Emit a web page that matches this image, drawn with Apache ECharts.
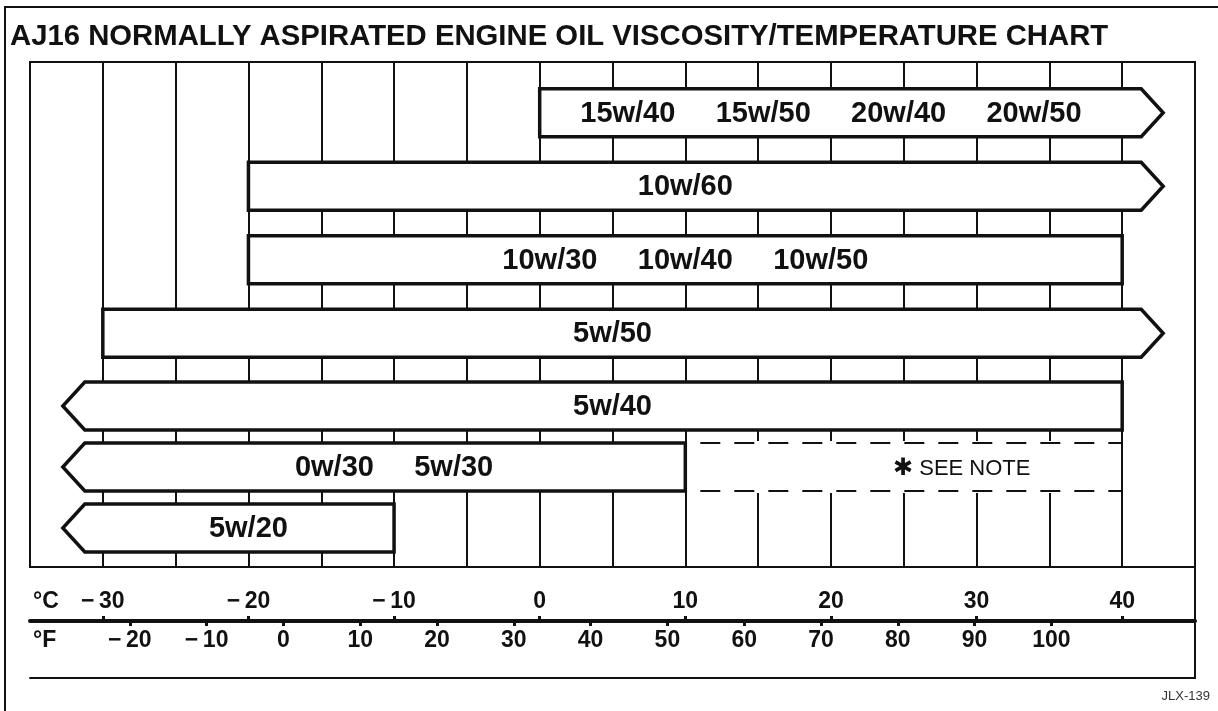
<!DOCTYPE html>
<html>
<head>
<meta charset="utf-8">
<title>AJ16 oil viscosity / temperature chart</title>
<script src="https://cdn.jsdelivr.net/npm/echarts@6/dist/echarts.min.js"></script>
<style>
  html, body { margin: 0; padding: 0; background: #fff; }
  #chart { width: 1218px; height: 711px; }
</style>
</head>
<body>
<div id="chart"></div>
<script>
// oil grades, one row each, top to bottom
const rowGrades = [
  ['15w/40', '15w/50', '20w/40', '20w/50'],
  ['10w/60'],
  ['10w/30', '10w/40', '10w/50'],
  ['5w/50'],
  ['5w/40'],
  ['0w/30', '5w/30'],
  ['5w/20']
]
// temperature band of each row in °C
const lowC = [0, -20, -20, -30, -30, -30, -30]
const highC = [40, 40, 40, 40, 40, 10, -10]
// 1 = the band goes on past the printed scale (drawn as an arrow)
const openLow = [0, 0, 0, 0, 1, 1, 1]
const openHigh = [1, 1, 0, 1, 0, 0, 0]

// dashed "see note" area next to the 0w/30 row
const noteRow = 5
const noteC = [10, 40]
const noteText = 'SEE NOTE'

const celsiusTicks = [-30, -20, -10, 0, 10, 20, 30, 40]
const fahrenheitTicks = [-20, -10, 0, 10, 20, 30, 40, 50, 60, 70, 80, 90, 100]

const C_MIN = -35
const C_MAX = 45
// the printed °F scale is drawn a little shorter than the °C one
const F_MIN = -33
const F_MAX = 118.7

const INK = '#111'
const topRows = 4 // the last three rows are packed closer together

const chart = echarts.init(document.getElementById('chart'))

function fmtTemp(v) {
  return v < 0 ? '\u2212\u2009' + Math.abs(v) : String(v)
}

function makeBandRenderer(offset) {
  return function (params, api) {
    const row = api.value(0)
    const p0 = api.coord([api.value(1), row])
    const p1 = api.coord([api.value(2), row])
    const xl = p0[0]
    const xr = p1[0]
    const cy = p0[1]
    const t = cy - 24
    const b = cy + 24
    const pts = []
    if (api.value(3)) {
      pts.push([xl - 18, t])
    } else {
      pts.push([xl, t])
    }
    if (api.value(4)) {
      pts.push([xr + 19, t], [xr + 41, cy], [xr + 19, b])
    } else {
      pts.push([xr, t], [xr, b])
    }
    if (api.value(3)) {
      pts.push([xl - 18, b], [xl - 40, cy])
    } else {
      pts.push([xl, b])
    }
    const label = rowGrades[offset + params.dataIndex].join('     ')
    return {
      type: 'group',
      children: [
        {
          type: 'polygon',
          shape: { points: pts },
          style: { fill: '#fff', stroke: INK, lineWidth: 3.5, lineJoin: 'miter' }
        },
        {
          type: 'text',
          style: {
            text: label,
            x: (xl + xr) / 2,
            y: cy + 1,
            align: 'center',
            verticalAlign: 'middle',
            font: 'bold 29px "Liberation Sans", sans-serif',
            fill: INK
          }
        }
      ]
    }
  }
}

function renderNote(params, api) {
  const row = api.value(0)
  const p0 = api.coord([api.value(1), row])
  const p1 = api.coord([api.value(2), row])
  const xl = p0[0]
  const xr = p1[0]
  const cy = p0[1]
  const t = cy - 24
  const b = cy + 24
  const dash = { stroke: INK, lineWidth: 2, lineDash: [20, 14] }
  return {
    type: 'group',
    children: [
      { type: 'rect', shape: { x: xl + 2, y: t - 2, width: xr - xl - 4, height: b - t + 4 }, style: { fill: '#fff' } },
      { type: 'line', shape: { x1: xl + 15, y1: t, x2: xr, y2: t }, style: dash },
      { type: 'line', shape: { x1: xl + 15, y1: b, x2: xr, y2: b }, style: dash },
      {
        type: 'text',
        style: {
          text: '{a|\u2731}{b| ' + noteText + '}',
          x: (xl + xr) / 2 + 58,
          y: cy + 2,
          align: 'center',
          verticalAlign: 'middle',
          rich: {
            a: { font: 'bold 24px "DejaVu Sans"', fill: INK },
            b: { font: '22px "Liberation Sans"', fill: INK }
          }
        }
      }
    ]
  }
}

function bandData(from, to) {
  const out = []
  for (let i = from; i < to; i++) {
    out.push([i - from, lowC[i], highC[i], openLow[i], openHigh[i]])
  }
  return out
}

const hiddenX = (grid) => ({
  gridIndex: grid, type: 'value', min: C_MIN, max: C_MAX, show: false
})

const scaleFont = { fontFamily: 'Liberation Sans', fontSize: 23, fontWeight: 'bold', color: INK }

const option = {
  backgroundColor: '#fff',
  animation: false,
  title: [
    {
      text: 'AJ16 NORMALLY ASPIRATED ENGINE OIL VISCOSITY/TEMPERATURE CHART',
      left: 10,
      top: 22,
      padding: 0,
      textStyle: { fontFamily: 'Liberation Sans', fontSize: 29.3, fontWeight: 'bold', color: INK }
    },
    {
      text: 'JLX-139',
      right: 8,
      top: 690,
      padding: 0,
      textStyle: { fontFamily: 'Liberation Sans', fontSize: 13, fontWeight: 'normal', color: '#333' }
    }
  ],
  graphic: [
    {
      type: 'rect',
      silent: true,
      z: -10,
      shape: { x: 5, y: 7, width: 1400, height: 900 },
      style: { fill: 'none', stroke: INK, lineWidth: 2 }
    }
  ],
  grid: [
    { left: 30, right: 23, top: 62, height: 505, show: true, borderColor: INK, borderWidth: 2, backgroundColor: 'transparent' },
    { left: 30, right: 23, top: 76, height: 294 },
    { left: 30, right: 23, top: 375.5, height: 183 },
    { left: 30, right: 23, top: 567, height: 111 }
  ],
  xAxis: [
    {
      gridIndex: 0, type: 'value', min: C_MIN, max: C_MAX, interval: 5,
      axisLine: { show: false }, axisTick: { show: false }, axisLabel: { show: false },
      splitLine: { show: true, showMinLine: false, showMaxLine: false, lineStyle: { color: INK, width: 2 } }
    },
    hiddenX(1),
    hiddenX(2),
    {
      gridIndex: 3, type: 'value', min: C_MIN, max: C_MAX, position: 'top', offset: -54,
      name: '°C', nameLocation: 'start', nameGap: -3,
      nameTextStyle: Object.assign({}, scaleFont, { align: 'left', verticalAlign: 'bottom', padding: [0, 0, 8, 0] }),
      axisLine: { onZero: false, lineStyle: { color: INK, width: 4 } },
      axisTick: { customValues: celsiusTicks, length: 5, lineStyle: { color: INK, width: 3 } },
      axisLabel: Object.assign({ customValues: celsiusTicks, margin: 8, formatter: fmtTemp }, scaleFont),
      splitLine: { show: false }
    },
    {
      gridIndex: 3, type: 'value', min: F_MIN, max: F_MAX, position: 'top', offset: -54,
      name: '°F', nameLocation: 'start', nameGap: -3,
      nameTextStyle: Object.assign({}, scaleFont, { align: 'left', verticalAlign: 'top', padding: [8, 0, 0, 0] }),
      axisLine: { show: false, onZero: false },
      axisTick: { customValues: fahrenheitTicks, inside: true, length: 5, lineStyle: { color: INK, width: 3 } },
      axisLabel: Object.assign({ customValues: fahrenheitTicks, inside: true, margin: 8, formatter: fmtTemp }, scaleFont),
      splitLine: { show: false }
    },
    {
      gridIndex: 3, type: 'value', min: C_MIN, max: C_MAX, position: 'bottom',
      axisLine: { onZero: false, lineStyle: { color: INK, width: 2 } },
      axisTick: { show: false }, axisLabel: { show: false }, splitLine: { show: false }
    }
  ],
  yAxis: [
    { gridIndex: 0, type: 'value', min: 0, max: 1, show: false },
    { gridIndex: 1, type: 'category', inverse: true, data: rowGrades.slice(0, topRows).map((g) => g.join(' ')), show: false },
    { gridIndex: 2, type: 'category', inverse: true, data: rowGrades.slice(topRows).map((g) => g.join(' ')), show: false },
    {
      gridIndex: 3, type: 'value', min: 0, max: 1, position: 'right',
      axisLine: { show: true, onZero: false, lineStyle: { color: INK, width: 2 } },
      axisTick: { show: false }, axisLabel: { show: false }, splitLine: { show: false }
    }
  ],
  series: [
    {
      type: 'custom', name: 'upper bands', xAxisIndex: 1, yAxisIndex: 1,
      renderItem: makeBandRenderer(0),
      encode: { x: [1, 2], y: 0 },
      data: bandData(0, topRows)
    },
    {
      type: 'custom', name: 'lower bands', xAxisIndex: 2, yAxisIndex: 2,
      renderItem: makeBandRenderer(topRows),
      encode: { x: [1, 2], y: 0 },
      data: bandData(topRows, rowGrades.length)
    },
    {
      type: 'custom', name: 'note', xAxisIndex: 2, yAxisIndex: 2, z: 1,
      renderItem: renderNote,
      encode: { x: [1, 2], y: 0 },
      data: [[noteRow - topRows, noteC[0], noteC[1]]]
    }
  ]
}

chart.setOption(option)
window.addEventListener('resize', () => chart.resize())
</script>
</body>
</html>
